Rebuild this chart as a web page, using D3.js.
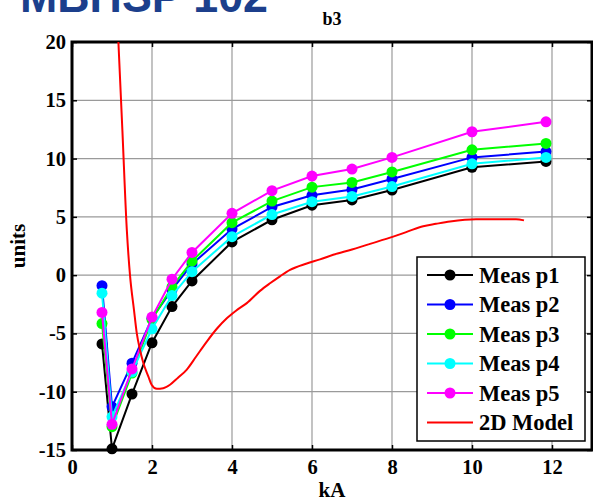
<!DOCTYPE html>
<html>
<head>
<meta charset="utf-8">
<script src="https://cdn.jsdelivr.net/npm/d3@7"></script>
<style>
  html, body { margin: 0; padding: 0; background: #fff; }
  svg { display: block; }
  text { font-family: "Liberation Serif", "Times New Roman", serif; font-weight: bold; }
</style>
</head>
<body>
<svg id="chart" width="593" height="502"></svg>
<script>
// Measurement currents (kA)
const measX = [0.75, 1.0, 1.5, 2.0, 2.5, 3.0, 4.0, 5.0, 6.0, 7.0, 8.0, 10.0, 11.85];
// Measured b3 at five positions
const measP1 = [-5.9, -14.9, -10.2, -5.8, -2.7, -0.5, 2.85, 4.75, 6.0, 6.45, 7.3, 9.25, 9.75];
const measP2 = [-0.9, -11.3, -7.55, -3.7, -1.25, 0.95, 3.95, 5.85, 6.85, 7.35, 8.25, 10.1, 10.6];
const measP3 = [-4.15, -13.0, -8.4, -3.8, -1.0, 1.2, 4.5, 6.35, 7.55, 7.95, 8.85, 10.75, 11.3];
const measP4 = [-1.55, -12.15, -8.3, -4.6, -1.75, 0.3, 3.3, 5.2, 6.3, 6.75, 7.6, 9.55, 10.1];
const measP5 = [-3.2, -12.8, -8.05, -3.6, -0.35, 1.95, 5.3, 7.25, 8.5, 9.1, 10.1, 12.3, 13.15];
// 2D model curve
const modelX = [1.16, 1.26, 1.37, 1.45, 1.55, 1.62, 1.7, 1.78, 1.91, 1.99, 2.12, 2.28, 2.45, 2.65, 2.87, 3.1, 3.37, 3.62, 3.87, 4.1, 4.37, 4.7, 4.95, 5.2, 5.45, 5.87, 6.2, 6.53, 7.0, 7.37, 8.03, 8.4, 8.78, 9.1, 9.45, 10.1, 10.6, 11.1, 11.3];
const modelY = [20, 12.4, 3.9, 0, -3.0, -5.0, -6.4, -7.5, -8.7, -9.4, -9.75, -9.7, -9.4, -8.8, -8.1, -7.0, -5.7, -4.6, -3.7, -3.05, -2.4, -1.35, -0.7, -0.1, 0.45, 1.0, 1.35, 1.75, 2.2, 2.6, 3.3, 3.75, 4.2, 4.4, 4.6, 4.8, 4.8, 4.8, 4.7];

const seriesNames = ["Meas p1", "Meas p2", "Meas p3", "Meas p4", "Meas p5", "2D Model"];
const seriesColors = ["#000000", "#0000ff", "#00ff00", "#00ffff", "#ff00ff", "#ff0000"];
const xTicks = [0, 2, 4, 6, 8, 10, 12];
const yTicks = [-15, -10, -5, 0, 5, 10, 15, 20];

const svg = d3.select("#chart");
const pLeft = 72, pRight = 592, pTop = 42, pBottom = 450;

const x = d3.scaleLinear().domain([0, 13]).range([pLeft, pRight]);
const y = d3.scaleLinear().domain([-15, 20]).range([pBottom, pTop]);

// Banner text at the very top (runs off the page edge)
svg.append("text")
  .attr("x", 20).attr("y", 12)
  .attr("textLength", 248).attr("lengthAdjust", "spacingAndGlyphs")
  .style("font-family", "'Liberation Sans', Arial, sans-serif")
  .style("font-size", "46px").style("font-weight", "bold")
  .attr("fill", "#1c3f8c")
  .text("MBHSP 102");

// Grid
const grid = svg.append("g").attr("stroke", "#9a9a9a").attr("stroke-width", 1.2);
grid.selectAll("line.gx").data(xTicks.filter(d => d > 0))
  .join("line").attr("x1", d => x(d)).attr("x2", d => x(d)).attr("y1", pTop).attr("y2", pBottom);
grid.selectAll("line.gy").data(yTicks.filter(d => d > -15 && d < 20))
  .join("line").attr("y1", d => y(d)).attr("y2", d => y(d)).attr("x1", pLeft).attr("x2", pRight);

// Axes with inward ticks; labels use a plain hyphen for negatives
const plainNum = d => String(d);
const tickStyle = g => {
  g.select(".domain").remove();
  g.selectAll(".tick line").attr("stroke", "#000").attr("stroke-width", 1.5);
  g.selectAll(".tick text").style("font-size", "20.5px").attr("fill", "#000");
};
svg.append("g").attr("transform", `translate(0,${pBottom})`)
  .call(d3.axisBottom(x).tickValues(xTicks).tickFormat(plainNum).tickSizeInner(-5).tickSizeOuter(0).tickPadding(9))
  .call(tickStyle);
svg.append("g").attr("transform", `translate(0,${pTop})`)
  .call(d3.axisTop(x).tickValues(xTicks).tickSizeInner(-5).tickSizeOuter(0).tickFormat(""))
  .call(tickStyle);
svg.append("g").attr("transform", `translate(${pLeft},0)`)
  .call(d3.axisLeft(y).tickValues(yTicks).tickFormat(plainNum).tickSizeInner(-5).tickSizeOuter(0).tickPadding(6))
  .call(tickStyle);
svg.append("g").attr("transform", `translate(${pRight},0)`)
  .call(d3.axisRight(y).tickValues(yTicks).tickSizeInner(-5).tickSizeOuter(0).tickFormat(""))
  .call(tickStyle);

// Plot frame
svg.append("rect").attr("x", pLeft).attr("y", pTop)
  .attr("width", pRight - pLeft).attr("height", pBottom - pTop)
  .attr("fill", "none").attr("stroke", "#000").attr("stroke-width", 3);

// Data
const measSeries = [measP1, measP2, measP3, measP4, measP5];
const line = d3.line().x(d => x(d[0])).y(d => y(d[1]));
const plot = svg.append("g");
measSeries.forEach((vals, i) => {
  const pts = measX.map((v, k) => [v, vals[k]]);
  plot.append("path").datum(pts).attr("d", line)
    .attr("fill", "none").attr("stroke", seriesColors[i]).attr("stroke-width", 2);
  plot.selectAll(null).data(pts).join("circle")
    .attr("cx", d => x(d[0])).attr("cy", d => y(d[1])).attr("r", 5.5)
    .attr("fill", seriesColors[i]);
});
const modelPts = modelX.map((v, k) => [v, modelY[k]]);
plot.append("path").datum(modelPts).attr("d", line.curve(d3.curveMonotoneX))
  .attr("fill", "none").attr("stroke", seriesColors[5]).attr("stroke-width", 2);

// Title and axis labels
svg.append("text").attr("x", (pLeft + pRight) / 2).attr("y", 25)
  .attr("text-anchor", "middle").style("font-size", "18px").text("b3");
svg.append("text").attr("x", (pLeft + pRight) / 2).attr("y", 497)
  .attr("text-anchor", "middle").style("font-size", "21px").text("kA");
svg.append("text").attr("transform", `translate(25,${(pTop + pBottom) / 2}) rotate(-90)`)
  .attr("text-anchor", "middle").style("font-size", "21px").text("units");

// Legend
const lg = svg.append("g");
lg.append("rect").attr("x", 417).attr("y", 257).attr("width", 168).attr("height", 184)
  .attr("fill", "#fff").attr("stroke", "#000").attr("stroke-width", 1.5);
seriesNames.forEach((name, i) => {
  const ry = 275 + i * 29.5;
  lg.append("line").attr("x1", 427).attr("x2", 473).attr("y1", ry).attr("y2", ry)
    .attr("stroke", seriesColors[i]).attr("stroke-width", 2);
  if (i < 5) lg.append("circle").attr("cx", 450).attr("cy", ry).attr("r", 5.5).attr("fill", seriesColors[i]);
  lg.append("text").attr("x", 479).attr("y", ry + 7.5).style("font-size", "22.5px").text(name);
});
</script>
</body>
</html>
